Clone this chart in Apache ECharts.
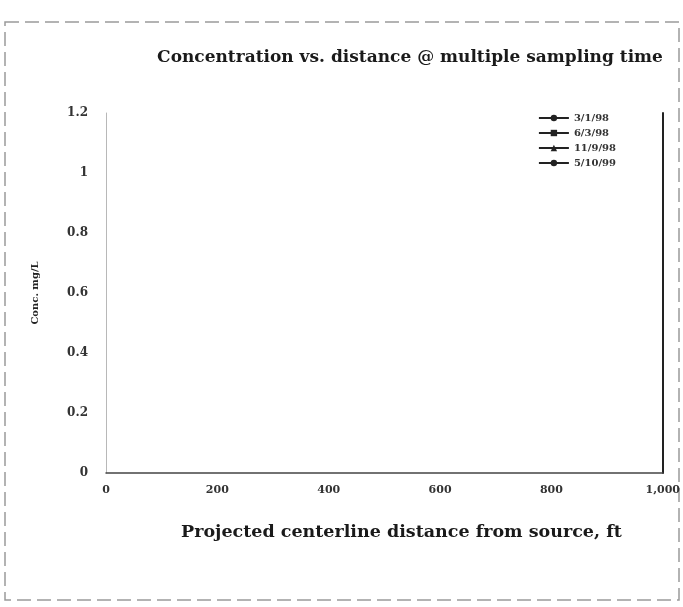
<!DOCTYPE html>
<html>
<head>
<meta charset="utf-8">
<script src="https://cdn.jsdelivr.net/npm/echarts@6/dist/echarts.min.js"></script>
<style>
    html, body { margin: 0; padding: 0; background: #ffffff; }
    #chart { width: 683px; height: 607px; }
</style>
</head>
<body>
<div id="chart"></div>
<script>
// sampling dates shown in the legend
const sampleDates = ["3/1/98", "6/3/98", "11/9/98", "5/10/99"];
// distance ticks (ft) and concentration ticks (mg/L)
const xTicks = [0, 200, 400, 600, 800, 1000];
const yTicks = [0, 0.2, 0.4, 0.6, 0.8, 1, 1.2];
// no measurable points are visible in the scan, each series is empty
const seriesData = [[], [], [], []];
const markers = ["circle", "rect", "triangle", "circle"];

const serif = "DejaVu Serif";

const chart = echarts.init(document.getElementById("chart"), null, { renderer: "canvas" });

const series = sampleDates.map((name, i) => ({
    name,
    type: "line",
    symbol: markers[i],
    symbolSize: 7,
    data: seriesData[i],
    itemStyle: { color: "#222" },
    lineStyle: { color: "#222", width: 2 },
}));

const option = {
    backgroundColor: "#ffffff",
    animation: false,
    title: {
        text: "Concentration vs. distance @ multiple sampling time",
        left: 405,
        textAlign: "center",
        top: 44,
        textStyle: { fontFamily: serif, fontWeight: "bold", fontSize: 17, color: "#1a1a1a" },
    },
    legend: {
        orient: "vertical",
        right: 62,
        top: 108,
        itemWidth: 30,
        itemHeight: 8,
        itemGap: 5,
        textStyle: { fontFamily: serif, fontWeight: "bold", fontSize: 10, color: "#333" },
        data: sampleDates,
    },
    grid: { left: 106, right: 19, top: 113, bottom: 134 },
    xAxis: {
        type: "value",
        min: xTicks[0],
        max: xTicks[xTicks.length - 1],
        interval: 200,
        name: "Projected centerline distance from source, ft",
        nameLocation: "middle",
        nameGap: 50,
        nameTextStyle: { fontFamily: serif, fontWeight: "bold", fontSize: 17.5, color: "#1a1a1a", padding: [0, 0, 0, 34] },
        axisLine: { lineStyle: { color: "#444", width: 1.5 } },
        axisTick: { show: false },
        splitLine: { show: false },
        axisLabel: {
            margin: 12,
            fontFamily: serif, fontWeight: "bold", fontSize: 11, color: "#333",
            formatter: (v) => v.toLocaleString("en-US"),
        },
    },
    yAxis: [
        {
            type: "value",
            min: yTicks[0],
            max: yTicks[yTicks.length - 1],
            interval: 0.2,
            name: "Conc. mg/L",
            nameLocation: "middle",
            nameGap: 66,
            nameTextStyle: { fontFamily: serif, fontWeight: "bold", fontSize: 10, color: "#222" },
            axisLine: { show: true, lineStyle: { color: "#b8b8b8", width: 1 } },
            axisTick: { show: false },
            splitLine: { show: false },
            axisLabel: {
                margin: 18,
                fontFamily: serif, fontWeight: "bold", fontSize: 12, color: "#333",
                formatter: (v) => String(+v.toFixed(1)),
            },
        },
        {
            type: "value",
            position: "right",
            min: yTicks[0],
            max: yTicks[yTicks.length - 1],
            interval: 0.2,
            axisLine: { show: true, lineStyle: { color: "#222", width: 2 } },
            axisTick: { show: false },
            axisLabel: { show: false },
            splitLine: { show: false },
        },
    ],
    graphic: [
        {
            type: "rect",
            shape: { x: 5, y: 22, width: 674, height: 578 },
            style: { fill: null, stroke: "#9a9a9a", lineWidth: 1.5, lineDash: [14, 6] },
            silent: true,
        },
    ],
    series,
};

chart.setOption(option);
</script>
</body>
</html>
